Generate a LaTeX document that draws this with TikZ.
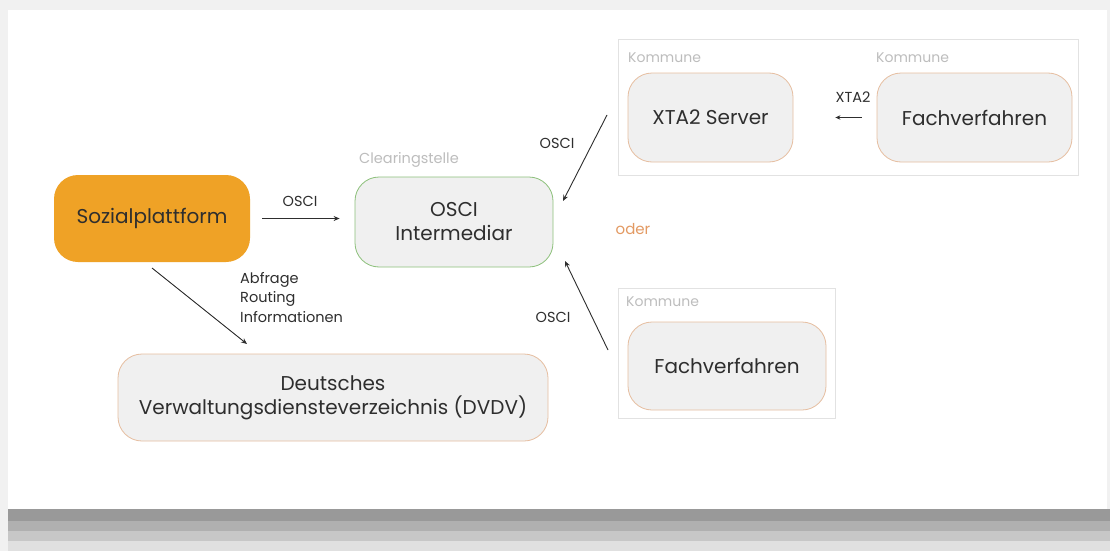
\documentclass[tikz,border=0pt]{standalone}
\usepackage{fontspec}
\setmainfont{Poppins}
\usetikzlibrary{arrows.meta}
\definecolor{bgout}{HTML}{F1F1F1}
\definecolor{orangefill}{HTML}{EFA226}
\definecolor{boxfill}{HTML}{F0F0F0}
\definecolor{peach}{HTML}{E6BEA0}
\definecolor{greenb}{HTML}{8CC07A}
\definecolor{txt}{HTML}{2E2E2E}
\definecolor{faint}{HTML}{BDBDBD}
\definecolor{framegray}{HTML}{E2E2E2}
\definecolor{oderc}{HTML}{E39A63}
\tikzset{
  box/.style={draw=peach, line width=0.8pt, fill=boxfill, rounded corners=24pt, align=center, text=txt, font=\fontsize{20}{24}\selectfont, inner sep=0pt},
  lbl/.style={text=txt, font=\fontsize{14.5}{17}\selectfont, inner sep=0pt},
  faintlbl/.style={text=faint, font=\fontsize{14}{17}\selectfont, inner sep=0pt},
  conn/.style={-{Stealth[length=6pt,width=5pt]}, line width=0.9pt, draw=txt},
  frame/.style={draw=framegray, line width=1pt}
}
\begin{document}
\begin{tikzpicture}[x=1pt,y=-1pt]
% background
\fill[bgout] (0,0) rectangle (1110,551);
\fill[white] (8,10) rectangle (1107,509);
\fill[white!60!black] (8,509) rectangle (1110,521);
\fill[white!69!black] (8,521) rectangle (1110,531);
\fill[white!78!black] (8,531) rectangle (1110,541);
\fill[white!88!black] (8,541) rectangle (1110,551);
\fill[bgout] (0,509) rectangle (8,551);
\useasboundingbox (0,0) rectangle (1110,551);

% containers
\node[frame, minimum width=460pt, minimum height=135pt, inner sep=0pt] (kom1) at (848,107.5) {};
\node[frame, minimum width=217pt, minimum height=130pt, inner sep=0pt] (kom2) at (726.5,353) {};
\node[faintlbl, anchor=west] (k1) at (628,58) {Kommune};
\node[faintlbl, anchor=west] (k2) at (876,58) {Kommune};
\node[faintlbl, anchor=west] (k3) at (626,302) {Kommune};

% main boxes
\node[box, draw=none, fill=orangefill, minimum width=196pt, minimum height=87pt] (soz) at (152,218.5) {Sozialplattform};
\node[box, draw=greenb, minimum width=198pt, minimum height=90pt] (osci) at (454,222) {OSCI\\Intermediar};
\node[box, minimum width=165pt, minimum height=89pt] (xta) at (710.5,117.5) {XTA2 Server};
\node[box, minimum width=195pt, minimum height=89pt] (fach1) at (974.5,117.5) {Fachverfahren};
\node[box, minimum width=198pt, minimum height=88pt] (fach2) at (727,366) {Fachverfahren};
\node[box, minimum width=430pt, minimum height=87pt] (dvdv) at (333,397.5) {Deutsches\\Verwaltungsdiensteverzeichnis (DVDV)};

\node[faintlbl, font=\fontsize{14.5}{17}\selectfont] (clear) at (409,160) {Clearingstelle};
\node[text=oderc, font=\fontsize{15}{17}\selectfont, inner sep=0pt] (oder) at (633,229) {oder};

% connectors
\draw[conn, shorten <=12pt, shorten >=15pt] (soz.east) -- (soz.east -| osci.west);
\node[lbl] (l1) at (300,201) {OSCI};

\coordinate (t1s) at (607,115);
\coordinate (t1e) at (563,201);
\draw[conn] (t1s) -- (t1e);
\node[lbl] (l2) at (557,143) {OSCI};

\coordinate (t2s) at (608,350);
\coordinate (t2e) at (565,261);
\draw[conn] (t2s) -- (t2e);
\node[lbl] (l3) at (553,317) {OSCI};

\draw[conn, shorten <=15pt, shorten >=42pt, -{Stealth[length=5pt,width=4.5pt]}] (fach1.west) -- (xta.east);
\node[lbl] (l4) at (853,97) {XTA2};

\coordinate (d1s) at (152,268);
\coordinate (d1e) at (247,344);
\draw[conn] (d1s) -- (d1e);
\node[lbl, anchor=north west, align=left, font=\fontsize{14.5}{19.5}\selectfont] (l5) at (240,272) {Abfrage\\Routing\\Informationen};
\end{tikzpicture}
\end{document}
